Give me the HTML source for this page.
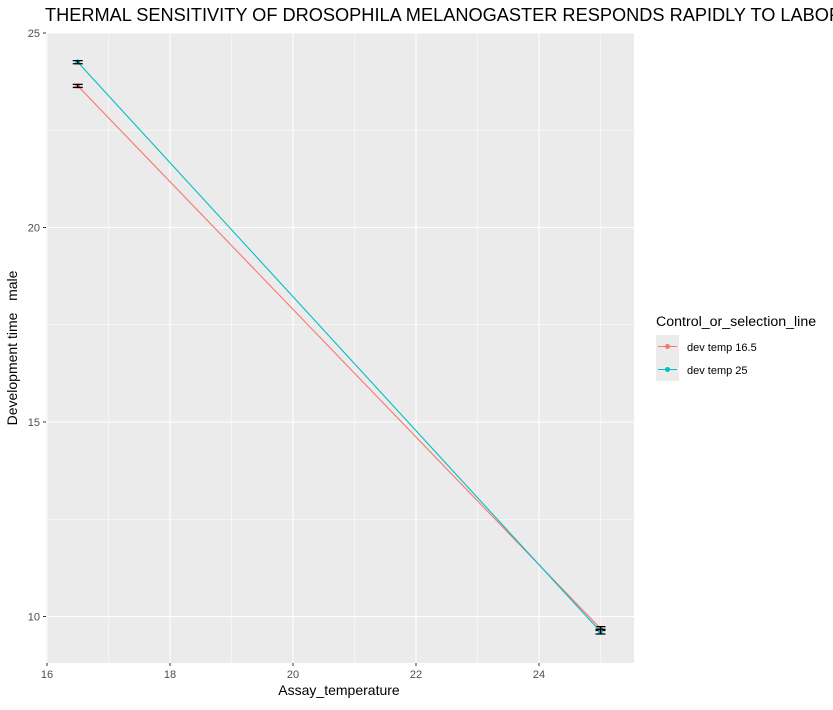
<!DOCTYPE html>
<html><head><meta charset="utf-8"><style>
body{margin:0;background:#fff;}
svg text{font-family:"Liberation Sans",sans-serif;}
</style></head><body>
<svg id="chart" width="833" height="705" xmlns="http://www.w3.org/2000/svg">
<text x="45" y="21" font-size="18.2" fill="#000">THERMAL SENSITIVITY OF DROSOPHILA MELANOGASTER RESPONDS RAPIDLY TO LABORATORY NATURAL SELECTION</text>
<rect x="46" y="33" width="588" height="630" fill="#ebebeb"/>
<g id="grid"></g><g id="series"></g><g id="axes"></g>
<text x="339" y="695" font-size="14" text-anchor="middle">Assay_temperature</text>
<text transform="translate(17,348) rotate(-90)" font-size="14" text-anchor="middle">Development time&#160;&#160;&#160;male</text>
<g>
<text x="656" y="326" font-size="14.2">Control_or_selection_line</text>
<rect x="656" y="335" width="23" height="23" fill="#ebebeb"/>
<rect x="656" y="358" width="23" height="23" fill="#ebebeb"/>
<line x1="658" y1="346.5" x2="677" y2="346.5" stroke="#F8766D" stroke-width="1.1"/><circle cx="667.5" cy="346.5" r="2.5" fill="#F8766D"/>
<line x1="658" y1="369.5" x2="677" y2="369.5" stroke="#00BFC4" stroke-width="1.1"/><circle cx="667.5" cy="369.5" r="2.5" fill="#00BFC4"/>
<text x="687" y="351" font-size="11">dev temp 16.5</text>
<text x="687" y="374" font-size="11">dev temp 25</text>
</g>
</svg>
<script>
const xValues=[16.5,25];
const seriesNames=["dev temp 16.5","dev temp 25"];
const seriesRed=[23.64,9.69];
const seriesTeal=[24.25,9.61];
const errRed=[0.04,0.05];
const errTeal=[0.04,0.06];
const xTicks=[16,18,20,22,24];
const yTicks=[10,15,20,25];
const colors=["#F8766D","#00BFC4"];
const NS="http://www.w3.org/2000/svg";
const X=v=>47+(v-16)*61.5;
const Y=v=>33+(25-v)*38.9;
function mk(tag,attrs,parent){const e=document.createElementNS(NS,tag);for(const k in attrs)e.setAttribute(k,attrs[k]);document.getElementById(parent).appendChild(e);return e;}
const minorX=[17,19,21,23,25];const minorY=[12.5,17.5,22.5];
minorX.forEach(v=>{const l=mk('line',{x1:X(v),x2:X(v),y1:33,y2:663,stroke:'#fff','stroke-width':0.5},'grid');});
minorY.forEach(v=>{const l=mk('line',{x1:46,x2:634,y1:Y(v),y2:Y(v),stroke:'#fff','stroke-width':0.5},'grid');});
xTicks.forEach(v=>{const l=mk('line',{x1:X(v),x2:X(v),y1:33,y2:663,stroke:'#fff','stroke-width':1.1},'grid');
 const t=mk('line',{x1:X(v),x2:X(v),y1:663,y2:666,stroke:'#333'},'axes');
 const tx=mk('text',{x:X(v),y:678,'font-size':11,fill:'#4d4d4d','text-anchor':'middle'},'axes');tx.textContent=v;});
yTicks.forEach(v=>{const l=mk('line',{x1:46,x2:634,y1:Y(v),y2:Y(v),stroke:'#fff','stroke-width':1.1},'grid');
 const t=mk('line',{x1:43,x2:46,y1:Y(v),y2:Y(v),stroke:'#333'},'axes');
 const tx=mk('text',{x:40,y:Y(v)+4,'font-size':11,fill:'#4d4d4d','text-anchor':'end'},'axes');tx.textContent=v;});
[[seriesRed,errRed],[seriesTeal,errTeal]].forEach(([vals,errs],i)=>{
 const pts=xValues.map((x,j)=>X(x)+','+Y(vals[j])).join(' ');
 const pl=mk('polyline',{points:pts,fill:'none',stroke:colors[i],'stroke-width':1.1},'series');
 
 
 xValues.forEach((x,j)=>{
  const c=mk('circle',{cx:X(x),cy:Y(vals[j]),r:2.5,fill:colors[i]},'series');
  
  
  const cx=X(x),y1=Y(vals[j]+errs[j]),y2=Y(vals[j]-errs[j]);
  const e=mk('path',{d:`M${cx-5},${y1}H${cx+5}M${cx-5},${y2}H${cx+5}M${cx},${y1}V${y2}`,stroke:'#000','stroke-width':1.3,fill:'none'},'series');
  
  
 });
});
</script>
</body></html>
